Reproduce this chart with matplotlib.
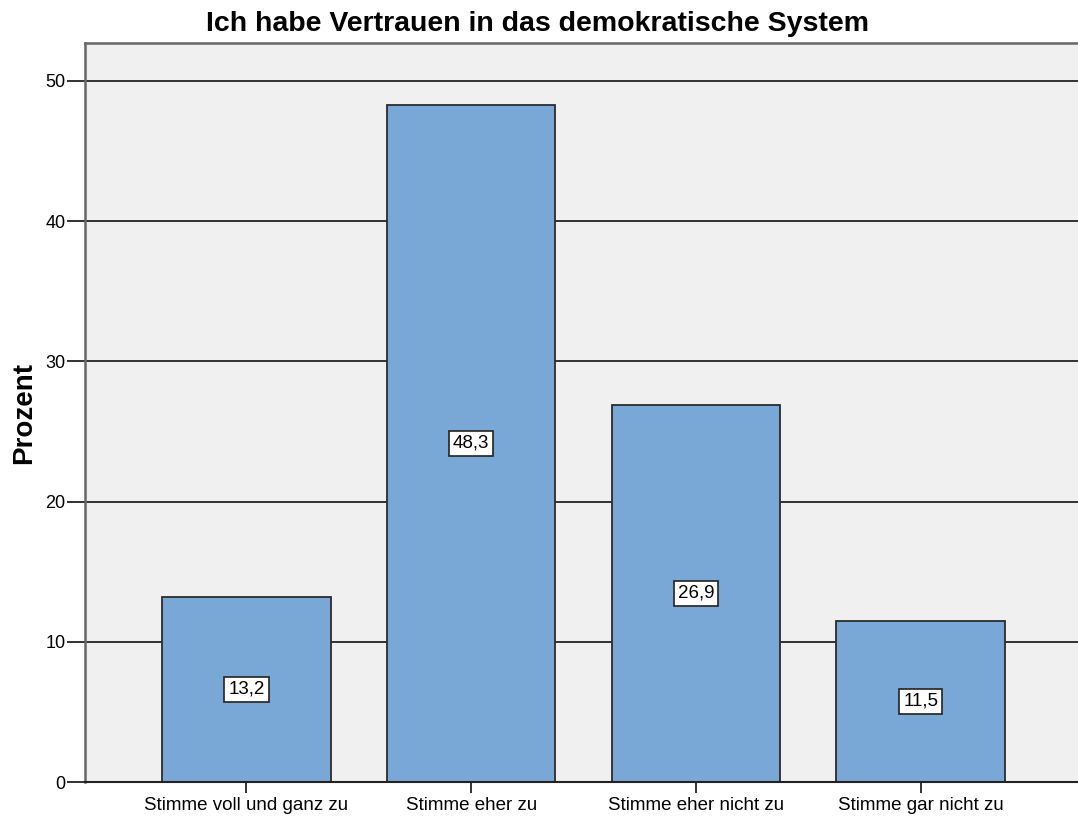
import matplotlib
matplotlib.use("Agg")
import matplotlib.pyplot as plt

categories = ["Stimme voll und ganz zu", "Stimme eher zu", "Stimme eher nicht zu", "Stimme gar nicht zu"]
values = [13.2, 48.3, 26.9, 11.5]
value_labels = ["13,2", "48,3", "26,9", "11,5"]
yticks = [0, 10, 20, 30, 40, 50]

plt.rcParams["font.family"] = ["Liberation Sans", "DejaVu Sans"]

fig = plt.figure(figsize=(10.78, 8.21), dpi=100)
ax = fig.add_axes([85 / 1078, 39 / 821, 1 - 85 / 1078, 739 / 821])
ax.set_facecolor("#F0F0F0")

x = list(range(len(categories)))
ax.set_axisbelow(True)
ax.yaxis.grid(True, color="#222222", linewidth=1.3)
ax.bar(x, values, width=0.75, color="#7AA8D6", edgecolor="#2B2B2B", linewidth=1.3, zorder=2)

for xi, v, lab in zip(x, values, value_labels):
    ax.text(xi, v / 2, lab, ha="center", va="center", fontsize=13.5, color="black", zorder=3,
            bbox=dict(boxstyle="square,pad=0.22", facecolor="white", edgecolor="#222222", linewidth=1.2))

ax.set_xlim(-0.718, 3.70)
ax.set_ylim(0, 52.7)
ax.set_yticks(yticks)
ax.set_xticks(x)
ax.set_xticklabels(categories, fontsize=13.5)
ax.tick_params(axis="y", labelsize=13, length=13, width=1.3, color="#222222", pad=1)
ax.tick_params(axis="x", length=8, width=1.3, color="#222222", pad=3)

for side in ["left", "top"]:
    ax.spines[side].set_color("#666666")
    ax.spines[side].set_linewidth(1.8)
ax.spines["right"].set_visible(False)
ax.spines["bottom"].set_color("#222222")
ax.spines["bottom"].set_linewidth(1.5)

ax.set_ylabel("Prozent", fontsize=20, fontweight="bold", labelpad=6)
fig.text(537 / 1078, 1 - 24 / 821, "Ich habe Vertrauen in das demokratische System",
         ha="center", va="center", fontsize=20.5, fontweight="bold")

fig.savefig("out.png", dpi=100)
